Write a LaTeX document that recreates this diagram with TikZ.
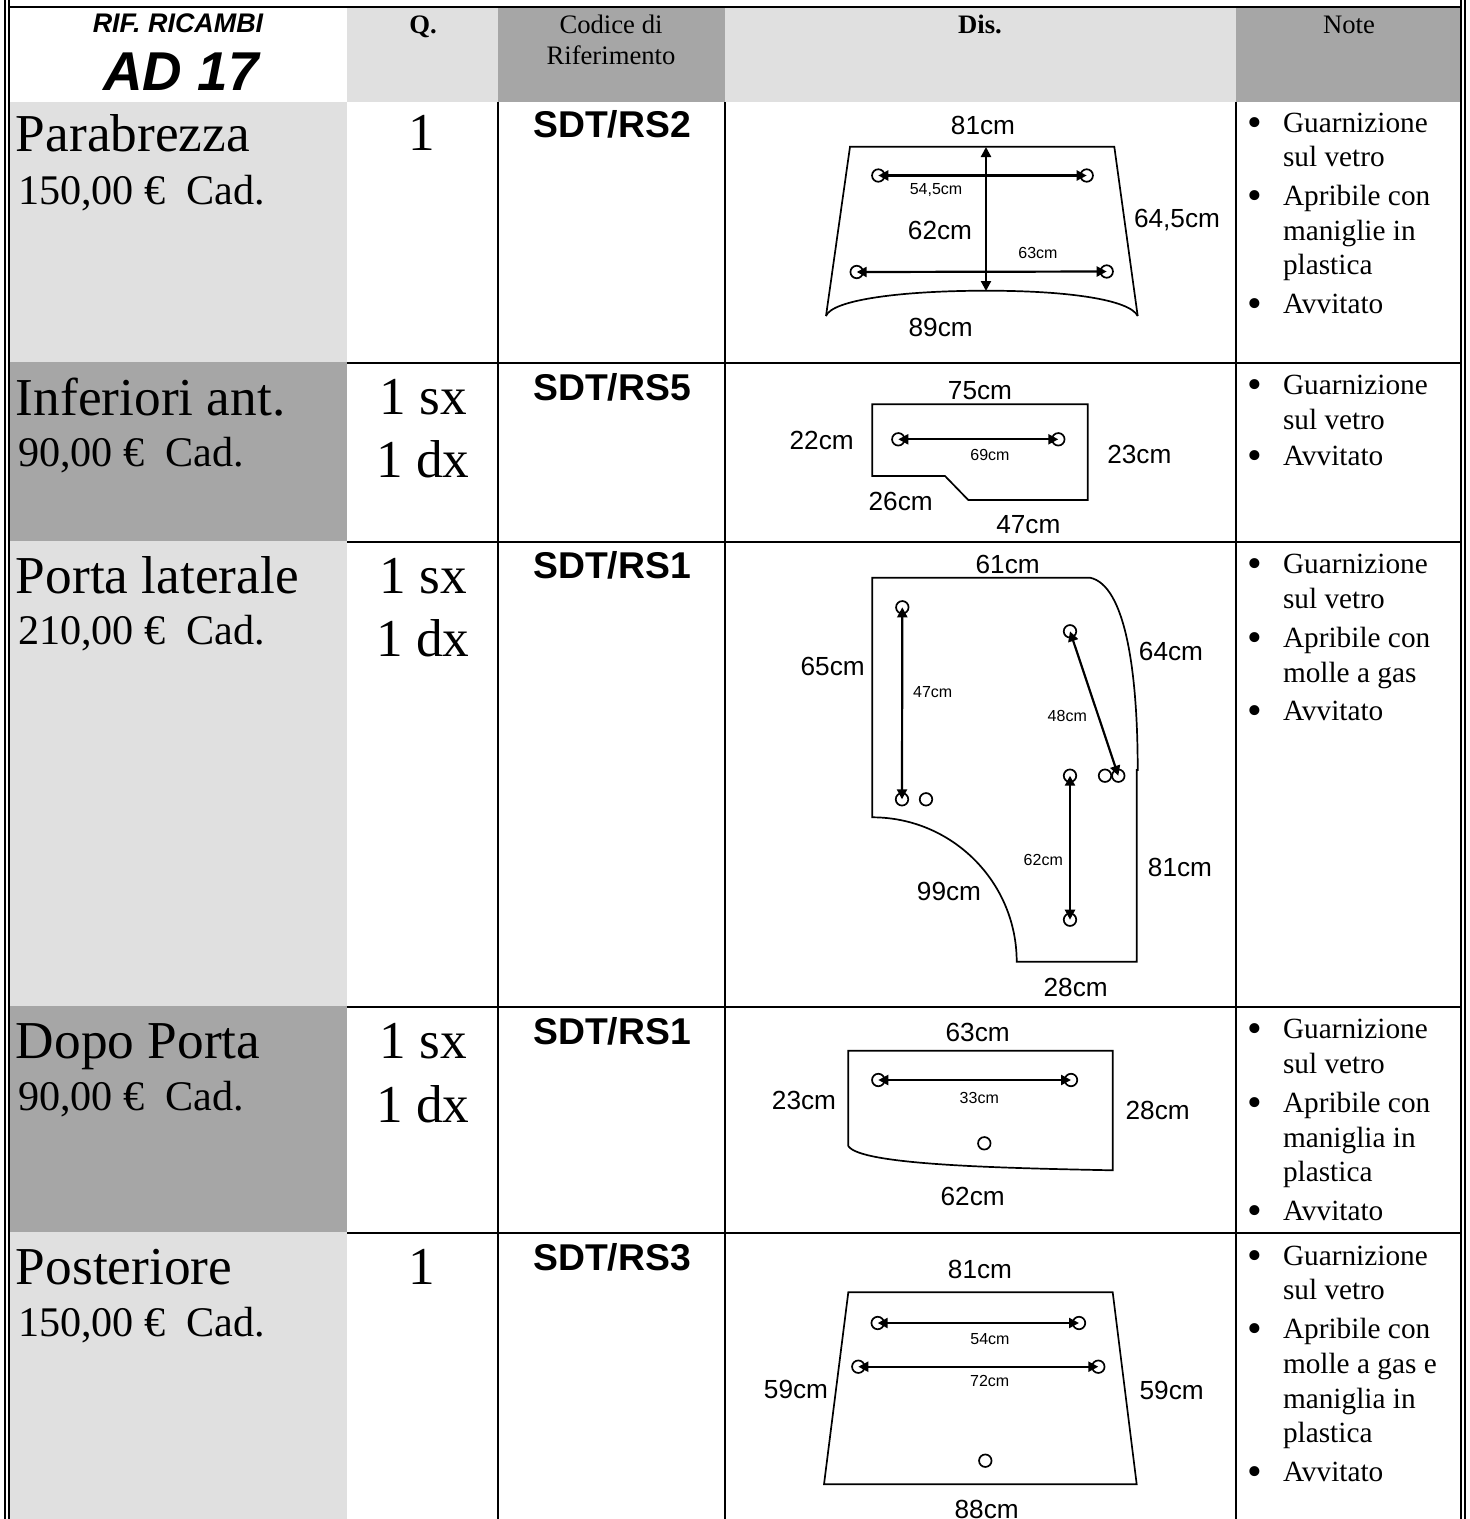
\documentclass[tikz,border=0pt]{standalone}
\usepackage{fontspec}
\setmainfont{Liberation Serif}
\setsansfont{Liberation Sans}
\usetikzlibrary{arrows.meta}
\definecolor{lightcell}{HTML}{E0E0E0}
\definecolor{darkcell}{HTML}{A6A6A6}
\tikzset{
  x=1pt,y=-1pt,
  every node/.style={inner sep=0pt,outer sep=0pt},
  rule/.style={line width=2pt,black},
  lightfill/.style={fill=lightcell},
  darkfill/.style={fill=darkcell},
  bigname/.style={anchor=base west,font=\fontsize{53.3}{60}\selectfont},
  price/.style={anchor=base west,font=\fontsize{42.2}{48}\selectfont},
  qty/.style={anchor=base,font=\fontsize{53.3}{60}\selectfont},
  code/.style={anchor=base,font=\sffamily\bfseries\fontsize{37.3}{42}\selectfont},
  head/.style={anchor=base,font=\fontsize{26.67}{30}\selectfont},
  headb/.style={anchor=base,font=\bfseries\fontsize{26.67}{30}\selectfont},
  note/.style={anchor=base west,font=\fontsize{29.3}{34}\selectfont},
  bul/.style={anchor=base,yshift=-4.5pt,font=\fontsize{42}{44}\selectfont},
  big/.style={font=\sffamily\fontsize{26.2}{30}\selectfont},
  small/.style={font=\sffamily\fontsize{16}{18}\selectfont},
  glass/.style={line width=1.7pt,line join=miter},
  hole/.style={circle,draw,line width=1.7pt,minimum size=12.5pt,fill=none},
  dim/.style={line width=2.2pt,{Triangle[length=10pt,width=10pt]}-{Triangle[length=10pt,width=10pt]}},
}
\begin{document}
\begin{tikzpicture}
\useasboundingbox (0,0) rectangle (1470,1519);
\fill[white] (0,0) rectangle (1470,1519);
% cell fills
\fill[lightfill] (347,8) rectangle (498,102);
\fill[darkfill] (498,8) rectangle (725,102);
\fill[lightfill] (725,8) rectangle (1236,102);
\fill[darkfill] (1236,8) rectangle (1460,102);
\fill[lightfill] (10,102) rectangle (347,362);
\fill[darkfill] (10,362) rectangle (347,541);
\fill[lightfill] (10,541) rectangle (347,1006);
\fill[darkfill] (10,1006) rectangle (347,1232);
\fill[lightfill] (10,1232) rectangle (347,1519);
% rules
\draw[rule] (5,0) -- (5,1519);
\draw[rule] (9,0) -- (9,1519);
\draw[rule] (1461,0) -- (1461,1519);
\draw[rule] (1465,0) -- (1465,1519);
\draw[rule] (9,7) -- (1461,7);
\foreach \r in {363,542,1007,1233} \draw[rule] (347,\r) -- (1461,\r);
\foreach \c in {498,725,1236} \draw[rule] (\c,102) -- (\c,1519);
% header
\node[anchor=base,font=\sffamily\bfseries\itshape\fontsize{26.9}{30}\selectfont] (hrif) at (178,32) {RIF. RICAMBI};
\node[anchor=base,font=\sffamily\bfseries\itshape\fontsize{54.7}{60}\selectfont] (had) at (181,90) {AD 17};
\node[headb] (hq) at (423,33) {Q.};
\node[head] (hc1) at (611,33) {Codice di};
\node[head] (hc2) at (611,64) {Riferimento};
\node[headb] (hd) at (980,33) {Dis.};
\node[head] (hn) at (1349,33) {Note};
% row labels
\node[bigname] (n1) at (16,151) {Parabrezza};
\node[price] (p1) at (18,204) {150,00 € \ Cad.};
\node[bigname] (n2) at (16,415) {Inferiori ant.};
\node[price] (p2) at (18,466) {90,00 € \ Cad.};
\node[bigname] (n3) at (16,593) {Porta laterale};
\node[price] (p3) at (18,644) {210,00 € \ Cad.};
\node[bigname] (n4) at (16,1058) {Dopo Porta};
\node[price] (p4) at (18,1110) {90,00 € \ Cad.};
\node[bigname] (n5) at (16,1284) {Posteriore};
\node[price] (p5) at (18,1336) {150,00 € \ Cad.};
% quantities
\node[qty] (q1) at (422,150) {1};
\node[qty] (q2a) at (423,414) {1 sx};
\node[qty] (q2b) at (423,477) {1 dx};
\node[qty] (q3a) at (423,593) {1 sx};
\node[qty] (q3b) at (423,656) {1 dx};
\node[qty] (q4a) at (423,1058) {1 sx};
\node[qty] (q4b) at (423,1122) {1 dx};
\node[qty] (q5) at (422,1284) {1};
% codes
\node[code] (c1) at (612,137) {SDT/RS2};
\node[code] (c2) at (612,400) {SDT/RS5};
\node[code] (c3) at (612,578) {SDT/RS1};
\node[code] (c4) at (612,1044) {SDT/RS1};
\node[code] (c5) at (612,1270) {SDT/RS3};
% notes row 1
\node[bul] (b11) at (1255,132) {•};
\node[note] (t11) at (1283,132) {Guarnizione};
\node[note] (t12) at (1283,166) {sul vetro};
\node[bul] (b12) at (1255,205) {•};
\node[note] (t13) at (1283,205) {Apribile con};
\node[note] (t14) at (1283,240) {maniglie in};
\node[note] (t15) at (1283,274) {plastica};
\node[bul] (b13) at (1255,313) {•};
\node[note] (t16) at (1283,313) {Avvitato};
% notes row 2
\node[bul] (b21) at (1255,394) {•};
\node[note] (t21) at (1283,394) {Guarnizione};
\node[note] (t22) at (1283,429) {sul vetro};
\node[bul] (b22) at (1255,465) {•};
\node[note] (t23) at (1283,465) {Avvitato};
% notes row 3
\node[bul] (b31) at (1255,573) {•};
\node[note] (t31) at (1283,573) {Guarnizione};
\node[note] (t32) at (1283,608) {sul vetro};
\node[bul] (b32) at (1255,647) {•};
\node[note] (t33) at (1283,647) {Apribile con};
\node[note] (t34) at (1283,682) {molle a gas};
\node[bul] (b33) at (1255,720) {•};
\node[note] (t35) at (1283,720) {Avvitato};
% notes row 4
\node[bul] (b41) at (1255,1038) {•};
\node[note] (t41) at (1283,1038) {Guarnizione};
\node[note] (t42) at (1283,1073) {sul vetro};
\node[bul] (b42) at (1255,1112) {•};
\node[note] (t43) at (1283,1112) {Apribile con};
\node[note] (t44) at (1283,1147) {maniglia in};
\node[note] (t45) at (1283,1181) {plastica};
\node[bul] (b43) at (1255,1220) {•};
\node[note] (t46) at (1283,1220) {Avvitato};
% notes row 5
\node[bul] (b51) at (1255,1265) {•};
\node[note] (t51) at (1283,1265) {Guarnizione};
\node[note] (t52) at (1283,1299) {sul vetro};
\node[bul] (b52) at (1255,1338) {•};
\node[note] (t53) at (1283,1338) {Apribile con};
\node[note] (t54) at (1283,1373) {molle a gas e};
\node[note] (t55) at (1283,1408) {maniglia in};
\node[note] (t56) at (1283,1442) {plastica};
\node[bul] (b53) at (1255,1481) {•};
\node[note] (t57) at (1283,1481) {Avvitato};
% sketch 1: windscreen
\draw[glass] (826,316) -- (850,146.7) -- (1114.3,146.7) -- (1137.7,316);
\draw[glass] (826,316) .. controls (832,300) and (900,290.7) .. (986.7,290.7) .. controls (1070,290.7) and (1130,300) .. (1137.7,316);
\coordinate (v1t) at (986,147);
\coordinate (v1b) at (986,291);
\node[hole] (h11) at (878.3,175.5) {};
\node[hole] (h12) at (1086.7,175.5) {};
\node[hole] (h13) at (856.7,272) {};
\node[hole] (h14) at (1106.7,271.5) {};
\draw[dim] (h11.center) -- (h12.center);
\draw[dim] (h13.center) -- (h14.center);
\draw[dim] (v1t) -- (v1b);
\node[big] (l11) at (983,125) {81cm};
\node[small] (l12) at (936,190) {54,5cm};
\node[big] (l13) at (940,230) {62cm};
\node[small] (l14) at (1038,253) {63cm};
\node[big] (l15) at (1177,220) {64,5cm};
\node[big] (l16) at (940.7,327.7) {89cm};
% sketch 2: lower front
\draw[glass] (872.3,404.3) -- (1087.7,404.3) -- (1087.7,500) -- (968.3,500) -- (945,476) -- (872.3,476) -- cycle;
\node[hole] (h21) at (898.3,439.3) {};
\node[hole] (h22) at (1058.3,439.3) {};
\draw[dim] (h21.center) -- (h22.center);
\node[big] (l21) at (980,390.7) {75cm};
\node[big] (l22) at (821.7,440.7) {22cm};
\node[big] (l23) at (1139.3,454.3) {23cm};
\node[small] (l24) at (990,455) {69cm};
\node[big] (l25) at (900.7,501) {26cm};
\node[big] (l26) at (1028.3,525) {47cm};
% sketch 3: side door
\draw[glass] (872.3,577.7) -- (1090,577.7) .. controls (1125,585) and (1137.7,670) .. (1137.7,770) -- (1136.7,770) -- (1136.7,961.7) -- (1016.7,961.7) .. controls (1016.7,882) and (952,817.3) .. (872.3,817.3) -- cycle;
\node[hole] (h31) at (902.3,607.3) {};
\node[hole] (h32) at (902,799.3) {};
\node[hole] (h33) at (926,799.3) {};
\node[hole] (h34) at (1070,631.3) {};
\node[hole] (h35) at (1118.3,775.7) {};
\node[hole] (h36) at (1105,775.7) {};
\node[hole] (h37) at (1070,775.7) {};
\node[hole] (h38) at (1070,919.7) {};
\draw[dim] (h31.center) -- (h32.center);
\draw[dim] (h34.center) -- (h35.center);
\draw[dim] (h37.center) -- (h38.center);
\node[big] (l31) at (1007.7,564.3) {61cm};
\node[big] (l32) at (832.7,666.7) {65cm};
\node[small] (l33) at (932.7,691.7) {47cm};
\node[big] (l34) at (1171,651) {64cm};
\node[small] (l35) at (1067.3,715.7) {48cm};
\node[small] (l36) at (1043.3,860) {62cm};
\node[big] (l37) at (1180,867.7) {81cm};
\node[big] (l38) at (949,891.7) {99cm};
\node[big] (l39) at (1075.7,987.3) {28cm};
% sketch 4: after door
\draw[glass] (848.3,1146) -- (848.3,1050.7) -- (1112.7,1050.7) -- (1112.7,1170.3) .. controls (1000,1168) and (860,1165) .. (848.3,1146);
\node[hole] (h41) at (878.3,1080) {};
\node[hole] (h42) at (1071,1080) {};
\node[hole] (h43) at (984.3,1143.3) {};
\draw[dim] (h41.center) -- (h42.center);
\node[big] (l41) at (977.7,1032.3) {63cm};
\node[big] (l42) at (804,1100.7) {23cm};
\node[small] (l43) at (979.3,1098.3) {33cm};
\node[big] (l44) at (1157.7,1110.7) {28cm};
\node[big] (l45) at (972.7,1196.7) {62cm};
% sketch 5: rear
\draw[glass] (848.3,1292.3) -- (1112.7,1292.3) -- (1136.7,1484.3) -- (824,1484.3) -- cycle;
\node[hole] (h51) at (877.7,1323) {};
\node[hole] (h52) at (1079,1323) {};
\node[hole] (h53) at (858.3,1366.7) {};
\node[hole] (h54) at (1098.3,1366.7) {};
\node[hole] (h55) at (985.3,1460.7) {};
\draw[dim] (h51.center) -- (h52.center);
\draw[dim] (h53.center) -- (h54.center);
\node[big] (l51) at (980,1269.3) {81cm};
\node[small] (l52) at (990,1339) {54cm};
\node[small] (l53) at (989.7,1381) {72cm};
\node[big] (l54) at (796,1389) {59cm};
\node[big] (l55) at (1171.7,1390.7) {59cm};
\node[big] (l56) at (986.7,1509) {88cm};
\end{tikzpicture}
\end{document}
